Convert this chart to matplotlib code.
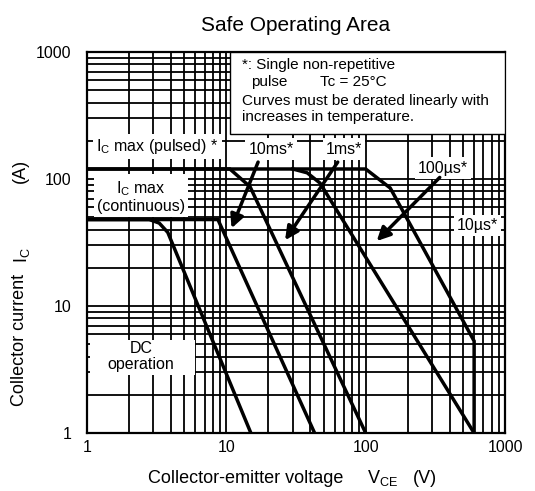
import numpy as np
import matplotlib
matplotlib.use('Agg')
from matplotlib import pyplot as plt
from matplotlib.patches import Rectangle

plt.rcParams['font.family'] = ['Liberation Sans', 'DejaVu Sans']
plt.rcParams['mathtext.fontset'] = 'custom'
plt.rcParams['mathtext.rm'] = 'Liberation Sans'

# curve vertices (V_CE [V], I_C [A])
dc_v = [1, 2.8, 3.3, 3.8, 15]
dc_i = [48, 48, 45, 38, 1]
ms10_v = [1, 8.7, 43]
ms10_i = [48, 48, 1]
ms1_v = [1, 10.6, 14.8, 100]
ms1_i = [120, 120, 87, 1]
us100_v = [30, 38, 47, 600]
us100_i = [120, 112, 93, 1]
us10_v = [1, 100, 150, 600, 600]
us10_i = [120, 120, 85, 5.3, 1]

ticks = [1, 10, 100, 1000]
tick_labels = ['1', '10', '100', '1000']

W, H = 535, 491
fig = plt.figure(figsize=(W / 100, H / 100), dpi=100)
ax = fig.add_axes([0.1626, 0.118, 0.7814, 0.776])
ax.set_xscale('log')
ax.set_yscale('log')
ax.set_xlim(1, 1000)
ax.set_ylim(1, 1000)
ax.set_axisbelow(True)
ax.grid(which='both', color='black', lw=1.3)
ax.set_xticks(ticks)
ax.set_xticklabels(tick_labels)
ax.set_yticks(ticks)
ax.set_yticklabels(tick_labels)
ax.tick_params(which='both', length=0, labelsize=11.5)
ax.tick_params(axis='x', pad=5)
ax.tick_params(axis='y', pad=11)
for s in ax.spines.values():
    s.set_linewidth(1.6)

for v, i in [(dc_v, dc_i), (ms10_v, ms10_i), (ms1_v, ms1_i),
             (us100_v, us100_i), (us10_v, us10_i)]:
    ax.plot(v, i, color='black', lw=2.5, solid_joinstyle='miter', zorder=3)

# note box in the upper right
ax.add_patch(Rectangle((10.6, 226), 1000 - 10.6, 1000 - 226, facecolor='white',
                       edgecolor='black', lw=1, zorder=4))
fs = 11
ax.text(13.0, 790, '*: Single non-repetitive', fontsize=fs, va='center', zorder=5)
ax.text(15.0, 580, 'pulse', fontsize=fs, va='center', zorder=5)
ax.text(47.0, 580, 'Tc = 25°C', fontsize=fs, va='center', zorder=5)
ax.text(13.0, 411, 'Curves must be derated linearly with', fontsize=fs, va='center', zorder=5)
ax.text(13.0, 308, 'increases in temperature.', fontsize=fs, va='center', zorder=5)

# label boxes that blank out the grid
lfs = 11.5
box = dict(boxstyle='square,pad=0.2', facecolor='white', edgecolor='none')
ax.text(3.2, 180, r'$\mathregular{I_C}$ max (pulsed) *', fontsize=lfs, ha='center',
        va='center', bbox=box, zorder=5)
ax.text(2.45, 73, '$\\mathregular{I_C}$ max\n(continuous)', fontsize=lfs, ha='center',
        va='center', linespacing=1.05, bbox=box, zorder=5)
ax.add_patch(Rectangle((1.05, 2.86), 6.0 - 1.05, 5.4 - 2.86, facecolor='white',
                       edgecolor='none', zorder=4))
ax.text(2.45, 4.0, 'DC\noperation', fontsize=lfs, ha='center', va='center',
        linespacing=1.05, zorder=5)
ax.text(21, 172, '10ms*', fontsize=lfs, ha='center', va='center', bbox=box, zorder=5)
ax.text(70, 172, '1ms*', fontsize=lfs, ha='center', va='center', bbox=box, zorder=5)
ax.text(360, 122, '100µs*', fontsize=lfs, ha='center', va='center', bbox=box, zorder=5)
ax.text(635, 43, '10µs*', fontsize=lfs, ha='center', va='center', bbox=box, zorder=5)

arrow = dict(arrowstyle='-|>', color='black', lw=2.5, mutation_scale=20,
             shrinkA=0, shrinkB=0)
ax.annotate('', xy=(10.9, 41), xytext=(16.9, 136), arrowprops=arrow, zorder=6)
ax.annotate('', xy=(26.4, 33), xytext=(63, 136), arrowprops=arrow, zorder=6)
ax.annotate('', xy=(120, 32.5), xytext=(340, 103), arrowprops=arrow, zorder=6)

ax.set_title('Safe Operating Area', fontsize=15, pad=15)

# axis labels in pieces, spaced like the datasheet
afs = 13
fig.text(343 / W, 1 - 483 / H, 'Collector-emitter voltage', fontsize=afs,
         ha='right', va='baseline')
fig.text(367 / W, 1 - 483 / H, '$\\mathregular{V_{CE}}$', fontsize=afs,
         ha='left', va='baseline')
fig.text(413 / W, 1 - 483 / H, '(V)', fontsize=afs, ha='left', va='baseline')
fig.text(20 / W, 1 - 340 / H, 'Collector current', fontsize=afs, rotation=90,
         ha='center', va='center')
fig.text(22 / W, 1 - 255 / H, '$\\mathregular{I_C}$', fontsize=afs, rotation=90,
         ha='center', va='center')
fig.text(20 / W, 1 - 171 / H, '(A)', fontsize=afs, rotation=90,
         ha='center', va='center')

plt.savefig('out.png', dpi=100)
